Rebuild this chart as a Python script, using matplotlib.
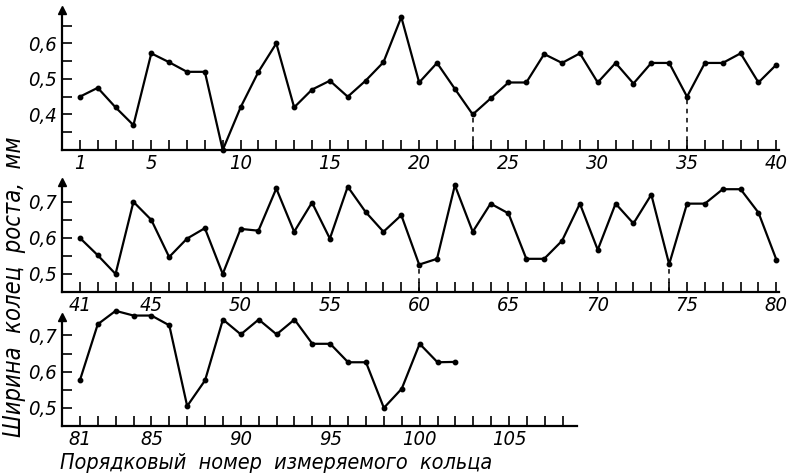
import numpy as np
import matplotlib.pyplot as plt

# ── Data: ring width (mm) by ring number ─────────────────────────────────────
RINGS_1 = list(range(1, 41))
WIDTH_1 = [0.45, 0.475, 0.42, 0.37, 0.572, 0.547, 0.52, 0.52, 0.30, 0.42,
           0.52, 0.60, 0.42, 0.47, 0.495, 0.45, 0.495, 0.547, 0.674, 0.49,
           0.545, 0.472, 0.40, 0.445, 0.49, 0.49, 0.57, 0.545, 0.572, 0.49,
           0.545, 0.487, 0.545, 0.545, 0.45, 0.545, 0.545, 0.572, 0.49, 0.54]

RINGS_2 = list(range(41, 81))
WIDTH_2 = [0.60, 0.552, 0.50, 0.70, 0.65, 0.547, 0.598, 0.627, 0.50, 0.625,
           0.62, 0.737, 0.617, 0.698, 0.598, 0.742, 0.672, 0.617, 0.663, 0.526,
           0.542, 0.746, 0.617, 0.695, 0.668, 0.542, 0.542, 0.592, 0.695, 0.567,
           0.695, 0.64, 0.72, 0.527, 0.695, 0.695, 0.735, 0.735, 0.67, 0.54]

RINGS_3 = list(range(81, 103))
WIDTH_3 = [0.576, 0.731, 0.768, 0.755, 0.755, 0.728, 0.505, 0.576, 0.744, 0.703,
           0.744, 0.703, 0.744, 0.677, 0.677, 0.626, 0.626, 0.50, 0.553, 0.677,
           0.626, 0.627]

# rings marked with a dashed drop line
MARKED = [23, 35, 60, 74]

XTICKS_1 = [1, 5, 10, 15, 20, 25, 30, 35, 40]
XTICKS_2 = [41, 45, 50, 55, 60, 65, 70, 75, 80]
XTICKS_3 = [81, 85, 90, 95, 100, 105]

YTICKS_1 = [0.4, 0.5, 0.6]
YTICKS_23 = [0.5, 0.6, 0.7]

plt.rcParams['font.family'] = ['DejaVu Sans']
plt.rcParams['font.style'] = 'italic'
plt.rcParams['font.stretch'] = 'condensed'


def fmt(v):
    return f'{v:.1f}'.replace('.', ',')


def draw_panel(fig, rect, rings, width, xlim, ylim, xticks, yticks, xtick_max):
    ax = fig.add_axes(rect)
    ax.plot(rings, width, color='black', lw=1.6, marker='o', ms=3.2, clip_on=False, zorder=3)

    for r in MARKED:
        if r in rings:
            v = width[rings.index(r)]
            ax.plot([r, r], [ylim[0], v], color='black', lw=1.1, ls=(0, (3, 3)))

    ax.set_xlim(*xlim)
    ax.set_ylim(*ylim)
    for s in ('top', 'right'):
        ax.spines[s].set_visible(False)
    for s in ('left', 'bottom'):
        ax.spines[s].set_linewidth(1.6)

    # every ring gets a tick, only some are labelled
    ax.set_xticks(range(rings[0], xtick_max + 1))
    ax.set_xticklabels([str(t) if t in xticks else '' for t in range(rings[0], xtick_max + 1)])
    yt = np.arange(ylim[0] + 0.05, ylim[1] - 0.01, 0.05)
    ax.set_yticks(yt)
    ax.set_yticklabels([fmt(v) if any(abs(v - y) < 1e-6 for y in yticks) else '' for v in yt])
    ax.tick_params(axis='x', direction='in', length=7.5, width=1.2, pad=3, labelsize=14.5)
    ax.tick_params(axis='y', direction='in', length=7.5, width=1.2, pad=4, labelsize=14.5)

    # arrow head on top of the value axis
    ax.plot(xlim[0], ylim[1], marker='^', color='black', ms=6, clip_on=False)
    return ax


fig = plt.figure(figsize=(7.95, 4.75), dpi=100)
W, H = 795, 475

def rect(x0, x1, ybot, ytop):
    return [x0 / W, 1 - ybot / H, (x1 - x0) / W, (ybot - ytop) / H]

draw_panel(fig, rect(62, 779, 150, 10), RINGS_1, WIDTH_1, (0, 40.15), (0.30, 0.694),
           XTICKS_1, YTICKS_1, 40)
draw_panel(fig, rect(62, 779, 292, 182), RINGS_2, WIDTH_2, (40, 80.15), (0.45, 0.755),
           XTICKS_2, YTICKS_23, 80)
draw_panel(fig, rect(62, 577, 426, 317), RINGS_3, WIDTH_3, (80, 108.8), (0.45, 0.751),
           XTICKS_3, YTICKS_23, 108)

fig.text(14 / W, 1 - 287 / H, 'Ширина  колец  роста,  мм', rotation=90,
         ha='center', va='center', fontsize=17)
fig.text(60 / W, 1 - 463 / H, 'Порядковый  номер  измеряемого  кольца',
         ha='left', va='center', fontsize=15.5)

fig.savefig('out.png', dpi=100)
